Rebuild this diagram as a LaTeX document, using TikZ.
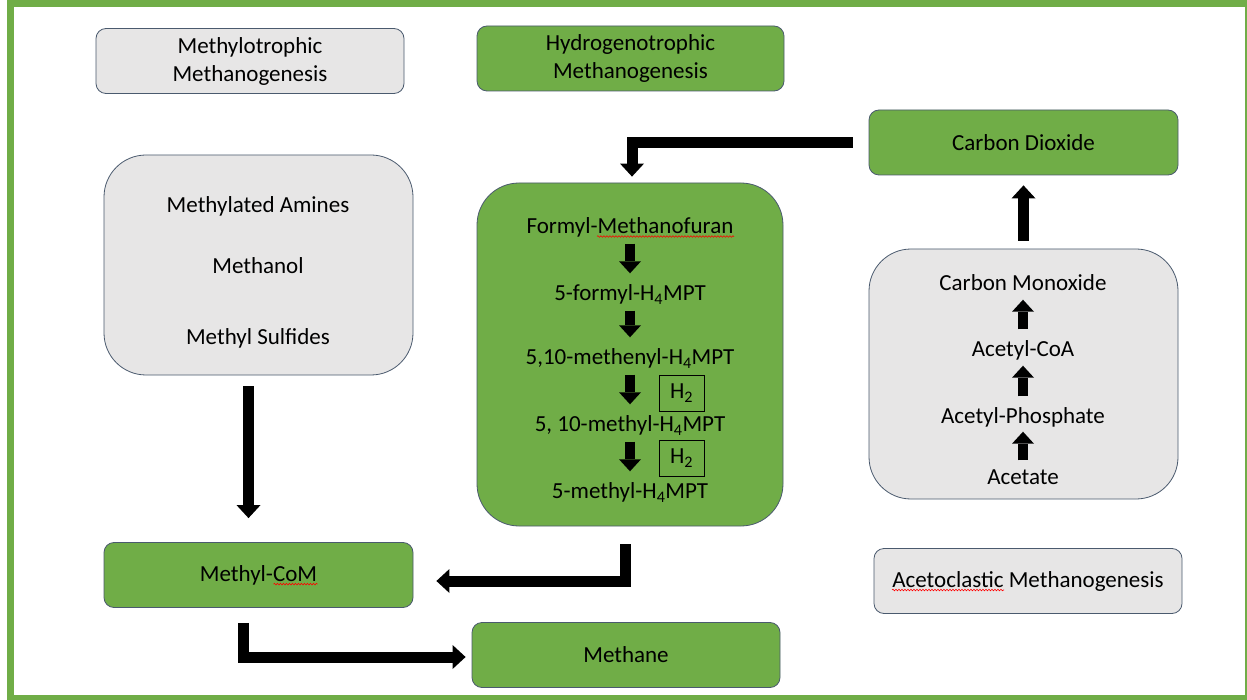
\documentclass[tikz,border=0pt]{standalone}
\usepackage{fontspec}
\setmainfont{Carlito}
\usepackage{xcolor}
\usetikzlibrary{arrows.meta,decorations.pathmorphing}
\definecolor{boxgreen}{HTML}{70AD47}
\definecolor{boxgrey}{HTML}{E7E6E6}
\definecolor{boxline}{HTML}{4A5A6E}

\begin{document}
\begin{tikzpicture}[x=1pt, y=-1pt, every node/.style={font=\fontsize{23}{28}\selectfont, align=center}, box/.style={draw=boxline, line width=0.8pt, rounded corners=10pt, minimum width=308pt, minimum height=65pt}, bigbox/.style={box, rounded corners=42pt}, greenbox/.style={fill=boxgreen}, greybox/.style={fill=boxgrey}, txt/.style={inner sep=2pt, text height=19pt, text depth=2pt}, htwo/.style={draw, line width=0.8pt, minimum width=45pt, minimum height=36pt, inner sep=0pt}, blk/.style={line width=11pt, line join=miter, -{Triangle[width=24pt,length=13pt,line width=0pt]}}, steparrow/.style={blk, line width=10pt, -{Triangle[width=22pt,length=12pt,line width=0pt]}}, squiggle/.style={red, line width=0.6pt, decorate, decoration={snake, amplitude=0.8pt, segment length=3pt}}]
  \useasboundingbox (0,0) rectangle (1247,700);
  \clip (0,0) rectangle (1247,700);
  \fill[white] (0,0) rectangle (1247,700);
  \draw[boxgreen, line width=7pt] (10.5,3.5) rectangle (1248.5,698.5);

  \node[box, greybox] (methylo) at (250,61) {Methylotrophic\\Methanogenesis};
  \node[box, greenbox, minimum width=307pt] (hydro) at (630.5,58.5) {Hydrogenotrophic\\Methanogenesis};

  \node[bigbox, greybox, minimum width=309pt, minimum height=220pt] (methylsrc) at (258.5,265) {};
  \node[txt] (amines) at (258,204) {Methylated Amines};
  \node[txt] (methanol) at (258,265) {Methanol};
  \node[txt] (sulfides) at (258,336) {Methyl Sulfides};

  \node[bigbox, greenbox, minimum width=306pt, minimum height=343pt] (hpath) at (630,354.5) {};
  \node[txt] (fmf) at (630,225) {Formyl-Methanofuran};
  \node[txt] (formyl) at (630,292) {5-formyl-H\textsubscript{4}MPT};
  \node[txt] (methenyl) at (630,356) {5,10-methenyl-H\textsubscript{4}MPT};
  \node[txt] (methylene) at (630,423) {5, 10-methyl-H\textsubscript{4}MPT};
  \node[txt] (methyl) at (630,490) {5-methyl-H\textsubscript{4}MPT};
  \node[htwo] (htwoa) at (681.5,393) {H\textsubscript{2}};
  \node[htwo] (htwob) at (681.5,458) {H\textsubscript{2}};

  \node[box, greenbox, minimum width=309pt] (co2) at (1023.5,142.5) {Carbon Dioxide};
  \node[bigbox, greybox, minimum width=309pt, minimum height=250pt] (acetbox) at (1023.5,374) {};
  \node[txt] (co) at (1023,282) {Carbon Monoxide};
  \node[txt] (acoa) at (1023,348) {Acetyl-CoA};
  \node[txt] (aphos) at (1023,415) {Acetyl-Phosphate};
  \node[txt] (acetate) at (1023,476) {Acetate};

  \node[box, greenbox, minimum width=309pt] (methylcom) at (258.5,575) {Methyl-CoM};
  \node[box, greenbox] (methane) at (626,655) {Methane};
  \node[box, greybox] (aceto) at (1028,581) {Acetoclastic Methanogenesis};

  \draw[squiggle] ([xshift=-33pt,yshift=-3pt]fmf.base) -- ([xshift=104pt,yshift=-3pt]fmf.base);
  \draw[squiggle] ([xshift=15pt,yshift=-3pt]methylcom.base) -- ([xshift=59pt,yshift=-3pt]methylcom.base);
  \draw[squiggle] ([xshift=-136pt,yshift=-3pt]aceto.base) -- ([xshift=-24pt,yshift=-3pt]aceto.base);

  \draw[steparrow, shorten <=6pt, shorten >=6pt] (fmf) -- (formyl);
  \draw[steparrow, shorten <=6pt, shorten >=6pt] (formyl) -- (methenyl);
  \draw[steparrow, shorten <=6pt, shorten >=6pt] (methenyl) -- (methylene);
  \draw[steparrow, shorten <=6pt, shorten >=6pt] (methylene) -- (methyl);
  \draw[steparrow, shorten <=3pt, shorten >=4pt] (acetate) -- (aphos);
  \draw[steparrow, shorten <=6pt, shorten >=5pt] (aphos) -- (acoa);
  \draw[steparrow, shorten <=6pt, shorten >=5pt] (acoa) -- (co);

  \draw[blk] ([yshift=8pt]acetbox.north) -- ([yshift=-10pt]co2.south);
  \draw[blk] ([xshift=-16pt]co2.west) -| ([xshift=2pt,yshift=6pt]hpath.north);
  \draw[blk] ([xshift=-10pt,yshift=-11pt]methylsrc.south) -- ([xshift=-10pt,yshift=24pt]methylcom.north);
  \draw[blk] ([xshift=-5pt,yshift=-18pt]hpath.south) |- ([xshift=23pt,yshift=-6pt]methylcom.east);
  \draw[blk] ([xshift=-15pt,yshift=-15pt]methylcom.south) |- ([xshift=-6pt,yshift=-2pt]methane.west);
\end{tikzpicture}
\end{document}
